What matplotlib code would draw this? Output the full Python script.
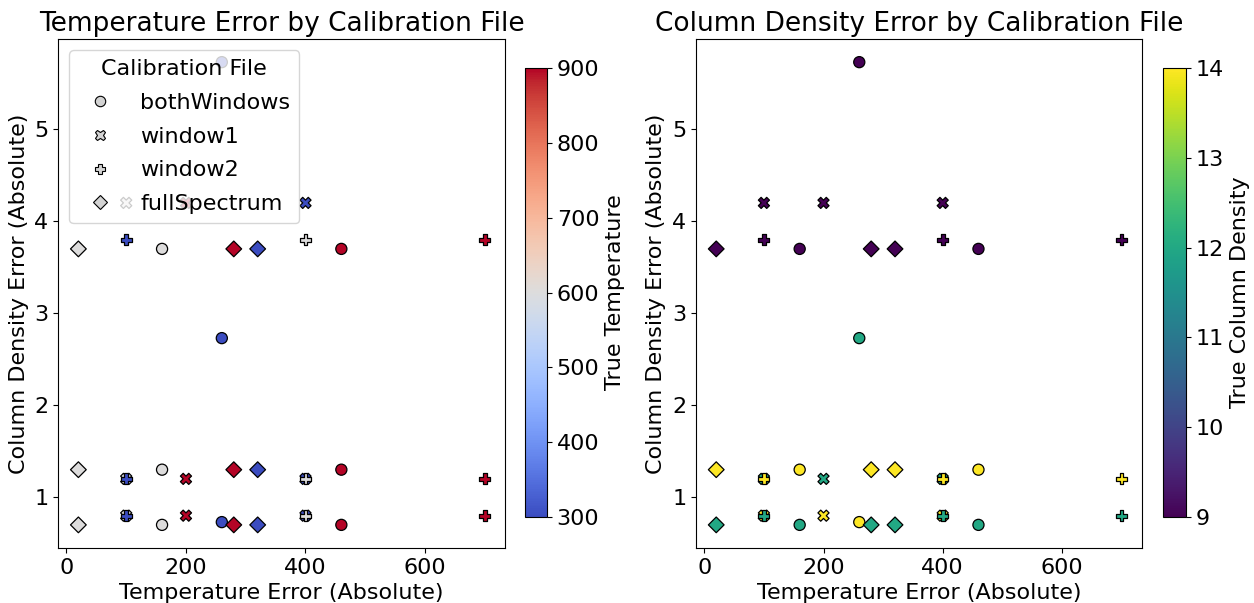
import matplotlib
matplotlib.use("Agg")
import matplotlib.pyplot as plt
from matplotlib.lines import Line2D
from matplotlib.colors import Normalize
from matplotlib.cm import ScalarMappable

# one row per run, grouped by calibration file
calib_files = ["bothWindows", "window1", "window2", "fullSpectrum"]
calib_markers = {"bothWindows": "o", "window1": "X", "window2": "P", "fullSpectrum": "D"}

calib_col = ["bothWindows"] * 9 + ["window1"] * 9 + ["window2"] * 9 + ["fullSpectrum"] * 9
true_temp = [300, 300, 300, 600, 600, 600, 900, 900, 900] * 4
true_dens = [9, 12, 14] * 12

temp_err = (
    [260] * 3 + [160] * 3 + [460] * 3      # bothWindows
    + [400] * 3 + [100] * 3 + [200] * 3    # window1
    + [100] * 3 + [400] * 3 + [700] * 3    # window2
    + [320] * 3 + [20] * 3 + [280] * 3     # fullSpectrum
)
dens_err = (
    [5.73, 2.73, 0.73] + [3.7, 0.7, 1.3] * 2
    + [4.2, 1.2, 0.8] * 3
    + [3.8, 0.8, 1.2] * 3
    + [3.7, 0.7, 1.3] * 3
)

FS = 16

plt.rcParams["font.size"] = FS

fig = plt.figure(figsize=(12.54, 6.03), dpi=100)
ax1 = fig.add_axes([0.0463, 0.0912, 0.3565, 0.8441])
cax1 = fig.add_axes([0.4187, 0.1426, 0.0175, 0.7446])
ax2 = fig.add_axes([0.5550, 0.0912, 0.3555, 0.8441])
cax2 = fig.add_axes([0.9274, 0.1426, 0.0185, 0.7446])


def draw_panel(ax, cax, hue, cmap, vmin, vmax, title, cbar_label):
    norm = Normalize(vmin=vmin, vmax=vmax)
    for name in calib_files:
        idx = [i for i, c in enumerate(calib_col) if c == name]
        ax.scatter([temp_err[i] for i in idx], [dens_err[i] for i in idx],
                   c=[hue[i] for i in idx], cmap=cmap, norm=norm,
                   marker=calib_markers[name], s=64,
                   edgecolors="black", linewidths=0.9)
    ax.set_xlabel("Temperature Error (Absolute)", fontsize=FS)
    ax.set_ylabel("Column Density Error (Absolute)", fontsize=FS)
    ax.set_title(title, fontsize=19)
    ax.set_xticks([0, 200, 400, 600])
    ax.tick_params(labelsize=FS)
    cb = fig.colorbar(ScalarMappable(norm=norm, cmap=cmap), cax=cax)
    cb.set_label(cbar_label, fontsize=FS)
    cb.ax.tick_params(labelsize=FS)


draw_panel(ax1, cax1, true_temp, "coolwarm", 300, 900,
           "Temperature Error by Calibration File", "True Temperature")
draw_panel(ax2, cax2, true_dens, "viridis", 9, 14,
           "Column Density Error by Calibration File", "True Column Density")

handles = [Line2D([], [], linestyle="none", marker=calib_markers[n],
                  markerfacecolor="lightgray", markeredgecolor="black",
                  markeredgewidth=0.8, markersize=7.5) for n in calib_files]
ax1.legend(handles, calib_files, title="Calibration File", loc="upper left",
           fontsize=FS, title_fontsize=FS, labelspacing=0.62)

fig.savefig("out.png", dpi=100)
